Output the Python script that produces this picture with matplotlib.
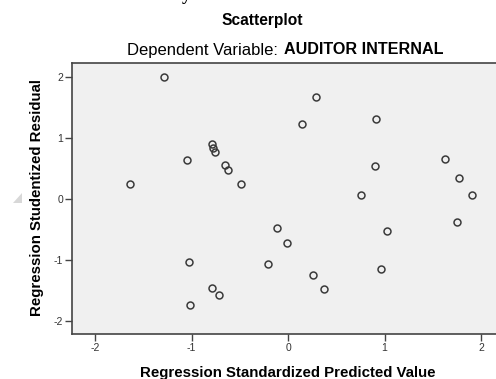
import numpy as np
import matplotlib
matplotlib.use("Agg")
import matplotlib.pyplot as plt
from matplotlib.patches import Polygon

# --- data ---
pred_std = [-1.28, -1.64, -1.05, -0.79, -0.78, -0.76, -0.65, -0.62, -0.49,
            -1.03, -0.79, -0.71, -1.02,
            0.29, 0.15, 0.91, 1.63, 0.90, 1.77, 1.91, 0.76, 1.75, 1.03,
            -0.11, -0.01, -0.21, 0.96, 0.26, 0.37]
resid_stud = [2.00, 0.245, 0.64, 0.89, 0.83, 0.76, 0.55, 0.48, 0.25,
              -1.04, -1.46, -1.58, -1.73,
              1.67, 1.23, 1.31, 0.65, 0.53, 0.34, 0.065, 0.065, -0.38, -0.52,
              -0.48, -0.72, -1.07, -1.14, -1.25, -1.47]
xticks = [-2, -1, 0, 1, 2]
yticks = [-2, -1, 0, 1, 2]

plt.rcParams['font.family'] = ['Liberation Sans', 'DejaVu Sans']

W, H = 496, 379
fig = plt.figure(figsize=(W / 100, H / 100), dpi=100)

# axes box in pixels: left 72, top 63, bottom 334, runs off right edge
l, t, b, r = 72, 63, 334, 496
ax = fig.add_axes([l / W, 1 - b / H, (r - l) / W, (b - t) / H])
ax.set_facecolor('#f0f0f0')

x0, xs = 288, 96.5   # px of 0 and px per unit
y0, ys = 198.85, 61.1
ax.set_xlim((l - x0) / xs, (r - x0) / xs)
ax.set_ylim((y0 - b) / ys, (y0 - t) / ys)

ax.plot(pred_std, resid_stud, linestyle='none', marker='o', markersize=5,
        markerfacecolor='none', markeredgecolor='#3a3a3a', markeredgewidth=1.1)

for side in ['left', 'top', 'bottom']:
    ax.spines[side].set_color('#444444')
    ax.spines[side].set_linewidth(1.2)
ax.spines['right'].set_visible(False)

ax.set_xticks(xticks)
ax.set_yticks(yticks)
ax.set_xticklabels([str(v) for v in xticks])
ax.set_yticklabels([str(v) for v in yticks])
ax.tick_params(axis='both', direction='out', length=5, width=1.0,
               color='#444444', labelsize=7.5, labelcolor='#333333', pad=1.5)

ax.set_xlabel('Regression Standardized Predicted Value', fontsize=10.8,
              fontweight='bold')
ax.set_ylabel('Regression Studentized Residual', fontsize=10.8,
              fontweight='bold')
ax.xaxis.label.set_va('center')
ax.yaxis.label.set_va('center')
ax.xaxis.set_label_coords((287.5 - l) / (r - l), (b - 372.5) / (b - t))
ax.yaxis.set_label_coords((37.5 - l) / (r - l), (b - 198) / (b - t))

# titles
fig.text(262 / W, 1 - 21 / H, 'Scatterplot', ha='center', va='center',
         fontsize=11.2, fontweight='bold')
fig.text(278 / W, 1 - 50.5 / H, 'Dependent Variable:', ha='right', va='center',
         fontsize=12)
fig.text(284 / W, 1 - 50 / H, 'AUDITOR INTERNAL', ha='left', va='center',
         fontsize=11.6, fontweight='bold')

# leftover bits from the page the chart was cut from
fig.text(186 / W, 1 - 4 / H, 'y', ha='center', va='bottom', fontsize=13,
         fontweight='bold', family='Liberation Serif')
fig.patches.append(Polygon([[13 / W, 1 - 203 / H], [22 / W, 1 - 203 / H],
                            [22 / W, 1 - 193 / H]], closed=True,
                           transform=fig.transFigure, facecolor='#d8d8d8',
                           edgecolor='none'))

fig.savefig('out.png', dpi=100)
